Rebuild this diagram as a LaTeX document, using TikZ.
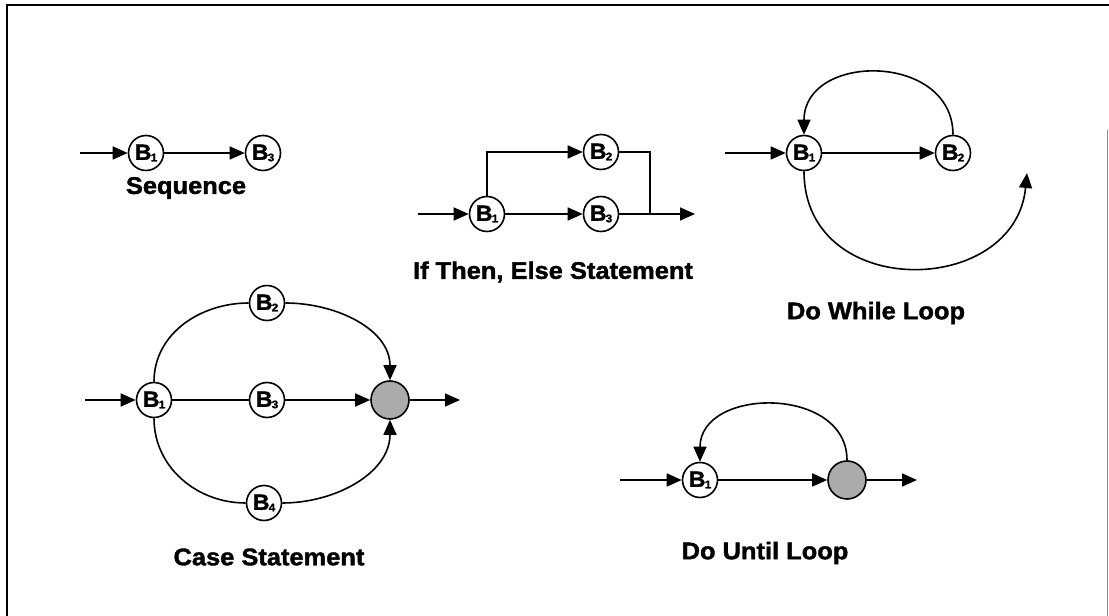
\documentclass[tikz,border=0pt]{standalone}
\usepackage{fontspec}
\setmainfont{Liberation Sans}[FakeStretch=1.06, BoldFeatures={FakeBold=1.6}]
\usetikzlibrary{arrows.meta}

% block label: bold B with a small subscript digit
\newcommand{\blk}[1]{{\fontsize{22}{22}\selectfont B}\kern-0.8pt\raisebox{-1.5pt}{\fontsize{11}{11}\selectfont #1}}

\tikzset{
  blk/.style={circle, draw, line width=1.6pt, minimum size=35pt, inner sep=0pt,
              font=\bfseries, fill=white},
  mergept/.style={circle, draw, line width=1.6pt, minimum size=38pt, inner sep=0pt,
               fill=black!33},
  flow/.style={line width=1.6pt, -{Triangle[length=15pt,width=13pt]}},
  wire/.style={line width=1.6pt},
  caption/.style={font=\fontsize{24}{28}\selectfont\bfseries, inner sep=0pt},
}

\begin{document}
\begin{tikzpicture}[x=1pt,y=1pt]
  \useasboundingbox (0,0) rectangle (1109,616);

  % frame
  \draw[line width=2pt] (1109,610.5) -- (6.5,610.5) -- (6.5,0);
  \draw[line width=0.8pt, black!45] (1107.5,486) -- (1107.5,0);

  % Sequence
  \coordinate (sqin) at (80,463);
  \node[blk] (sq1) at (146,463) {\blk{1}};
  \node[blk] (sq3) at (263,463) {\blk{3}};
  \draw[flow] (sqin) -- (sq1);
  \draw[flow] (sq1) -- (sq3);
  \node[caption] (sqlab) at (186,428) {Sequence};

  % If Then, Else
  \coordinate (ifin) at (418,402);
  \node[blk] (if1) at (487,402) {\blk{1}};
  \node[blk] (if2) at (601,464) {\blk{2}};
  \node[blk] (if3) at (601,402) {\blk{3}};
  \coordinate (ifjoin) at (650,402);
  \coordinate (ifout) at (695,402);
  \draw[flow] (ifin) -- (if1);
  \draw[flow] (if1) -- (if3);
  \draw[flow] (if1.north) |- (if2.west);
  \draw[wire] (if2.east) -| (ifjoin);
  \draw[flow] (if3.east) -- (ifout);
  \node[caption] (iflab) at (553,344) {If Then, Else Statement};

  % Do While Loop
  \coordinate (dwin) at (725,463);
  \node[blk] (dw1) at (804,463) {\blk{1}};
  \node[blk] (dw2) at (953,463) {\blk{2}};
  \coordinate (dwout) at (1027,443);
  \draw[flow] (dwin) -- (dw1);
  \draw[flow] (dw1) -- (dw2);
  \draw[flow] (dw2) to[out=90, in=90, looseness=1.42] (dw1);
  \draw[flow] (dw1.south) .. controls +(0,-130) and +(-12,-125) .. (dwout);
  \node[caption] (dwlab) at (876,303) {Do While Loop};

  % Case Statement
  \coordinate (csin) at (85,216);
  \node[blk] (cs1) at (154,216) {\blk{1}};
  \node[blk] (cs2) at (267,313) {\blk{2}};
  \node[blk] (cs3) at (267,216) {\blk{3}};
  \node[blk] (cs4) at (264,113) {\blk{4}};
  \node[mergept] (csj) at (390,216) {};
  \coordinate (csout) at (460,216);
  \draw[flow] (csin) -- (cs1);
  \draw[wire] (cs1) -- (cs3);
  \draw[flow] (cs3) -- (csj);
  \draw[flow] (csj) -- (csout);
  \draw[wire] (cs1.north) to[out=90, in=180] (cs2.west);
  \draw[flow] (cs2.east) to[out=0, in=90] (csj.north);
  \draw[wire] (cs1.south) to[out=-90, in=180] (cs4.west);
  \draw[flow] (cs4.east) to[out=0, in=-90] (csj.south);
  \node[caption] (cslab) at (269,59) {Case Statement};

  % Do Until Loop
  \coordinate (duin) at (620,136);
  \node[blk] (du1) at (700,136) {\blk{1}};
  \node[mergept] (duj) at (847,136) {};
  \coordinate (duout) at (917,136);
  \draw[flow] (duin) -- (du1);
  \draw[flow] (du1) -- (duj);
  \draw[flow] (duj) -- (duout);
  \draw[flow] (duj) to[out=90, in=90, looseness=1.3] (du1);
  \node[caption] (dulab) at (765,63) {Do Until Loop};
\end{tikzpicture}
\end{document}
